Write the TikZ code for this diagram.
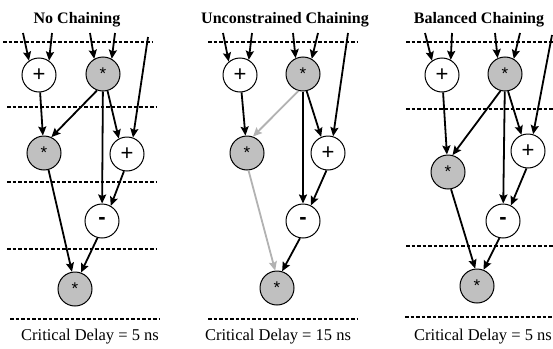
\documentclass[tikz,border=0pt]{standalone}
\usepackage{fontspec}
\setmainfont{Liberation Serif}
\newfontfamily\opfont{Liberation Sans}
\usetikzlibrary{arrows.meta}

\definecolor{opgray}{RGB}{192,192,192}
\definecolor{pathgray}{RGB}{178,178,178}

\tikzset{
  op/.style={circle, draw=black, line width=1pt, minimum size=34pt, inner sep=0pt,
    font=\opfont\fontsize{22}{22}\selectfont},
  addop/.style={op, fill=white},
  mulop/.style={op, fill=opgray, font=\opfont\fontsize{17}{17}\selectfont},
  edge/.style={line width=1.8pt, -{Stealth[length=9pt,width=8pt,inset=1.5pt]}},
  crit/.style={edge, draw=pathgray},
  cstep/.style={line width=1.5pt, dash pattern=on 3.5pt off 2pt},
  title/.style={font=\bfseries\fontsize{16}{18}\selectfont},
  delay/.style={font=\fontsize{16.5}{18}\selectfont}
}

\begin{document}
\begin{tikzpicture}[x=1pt,y=-1pt]
        \useasboundingbox (0,0) rectangle (553,348);

        % No Chaining
        \node[title] (nc-title) at (77,20) {No Chaining};
        \draw[cstep] (3,42) -- (152,42);
        \draw[cstep] (7,107) -- (156,107);
        \draw[cstep] (7,182) -- (157,182);
        \draw[cstep] (7,249) -- (156,249);
        \draw[cstep] (10,319) -- (160,319);
        \node[addop] (nc-add1) at (39,75) {+};
        \node[mulop] (nc-mul1) at (103,74) {*};
        \node[mulop] (nc-mul2) at (44,153) {*};
        \node[addop] (nc-add2) at (127,154) {+};
        \node[addop] (nc-sub)  at (102,221) {\bfseries -};
        \node[mulop] (nc-mul3) at (75,289) {*};
        \coordinate (nc-in1) at (23,33);
        \coordinate (nc-in2) at (52,33);
        \coordinate (nc-in3) at (90,33);
        \coordinate (nc-in4) at (115,33);
        \coordinate (nc-in5) at (148,37);
        \draw[edge] (nc-in1) -- (nc-add1.125);
        \draw[edge] (nc-in2) -- (nc-add1.55);
        \draw[edge] (nc-in3) -- (nc-mul1.120);
        \draw[edge] (nc-in4) -- (nc-mul1.60);
        \draw[edge] (nc-in5) -- (nc-add2.70);
        \draw[edge] (nc-add1) -- (nc-mul2);
        \draw[edge] (nc-mul1.250) -- (nc-mul2.65);
        \draw[edge] (nc-mul1) -- (nc-sub);
        \draw[edge] (nc-mul1.285) -- (nc-add2.118);
        \draw[edge] (nc-add2.260) -- (nc-sub.60);
        \draw[edge] (nc-mul2.285) -- (nc-mul3.100);
        \draw[edge] (nc-sub.255) -- (nc-mul3.70);
        \node[delay] (nc-delay) at (90,337) {Critical Delay = 5 ns};

        % Unconstrained Chaining
        \node[title] (uc-title) at (285,20) {Unconstrained Chaining};
        \draw[cstep] (208,42) -- (358,42);
        \draw[cstep] (208,319) -- (358,319);
        \node[addop] (uc-add1) at (240,75) {+};
        \node[mulop] (uc-mul1) at (303,74) {*};
        \node[mulop] (uc-mul2) at (247,153) {*};
        \node[addop] (uc-add2) at (328,153) {+};
        \node[addop] (uc-sub)  at (303,221) {\bfseries -};
        \node[mulop] (uc-mul3) at (277,288) {*};
        \coordinate (uc-in1) at (223,33);
        \coordinate (uc-in2) at (252,33);
        \coordinate (uc-in3) at (293,33);
        \coordinate (uc-in4) at (318,33);
        \coordinate (uc-in5) at (348,33);
        \draw[edge] (uc-in1) -- (uc-add1.130);
        \draw[edge] (uc-in2) -- (uc-add1.60);
        \draw[edge] (uc-in3) -- (uc-mul1.115);
        \draw[edge] (uc-in4) -- (uc-mul1.60);
        \draw[edge] (uc-in5) -- (uc-add2.73);
        \draw[edge] (uc-add1) -- (uc-mul2);
        \draw[crit] (uc-mul1.255) -- (uc-mul2.70);
        \draw[edge] (uc-mul1) -- (uc-sub);
        \draw[edge] (uc-mul1.282) -- (uc-add2.113);
        \draw[edge] (uc-add2.265) -- (uc-sub.63);
        \draw[crit] (uc-mul2.275) -- (uc-mul3.96);
        \draw[edge] (uc-sub.260) -- (uc-mul3.73);
        \node[delay] (uc-delay) at (278,337) {Critical Delay = 15 ns};

        % Balanced Chaining
        \node[title] (bc-title) at (479,20) {Balanced Chaining};
        \draw[cstep] (406,42) -- (553,42);
        \draw[cstep] (406,109) -- (553,109);
        \draw[cstep] (406,246) -- (553,246);
        \draw[cstep] (405,317) -- (553,317);
        \node[addop] (bc-add1) at (442,75) {+};
        \node[mulop] (bc-mul1) at (505,74) {*};
        \node[mulop] (bc-mul2) at (448,172) {*};
        \node[addop] (bc-add2) at (528,151) {+};
        \node[addop] (bc-sub)  at (503,221) {\bfseries -};
        \node[mulop] (bc-mul3) at (477,286) {*};
        \coordinate (bc-in1) at (425,33);
        \coordinate (bc-in2) at (452,33);
        \coordinate (bc-in3) at (495,33);
        \coordinate (bc-in4) at (520,33);
        \coordinate (bc-in5) at (552,35);
        \draw[edge] (bc-in1) -- (bc-add1.125);
        \draw[edge] (bc-in2) -- (bc-add1.60);
        \draw[edge] (bc-in3) -- (bc-mul1.115);
        \draw[edge] (bc-in4) -- (bc-mul1.60);
        \draw[edge] (bc-in5) -- (bc-add2.73);
        \draw[edge] (bc-add1) -- (bc-mul2);
        \draw[edge] (bc-mul1.255) -- (bc-mul2.75);
        \draw[edge] (bc-mul1) -- (bc-sub);
        \draw[edge] (bc-mul1.280) -- (bc-add2.112);
        \draw[edge] (bc-add2.265) -- (bc-sub.63);
        \draw[edge] (bc-mul2.280) -- (bc-mul3.96);
        \draw[edge] (bc-sub.258) -- (bc-mul3.68);
        \node[delay] (bc-delay) at (483,337) {Critical Delay = 5 ns};
\end{tikzpicture}
\end{document}
